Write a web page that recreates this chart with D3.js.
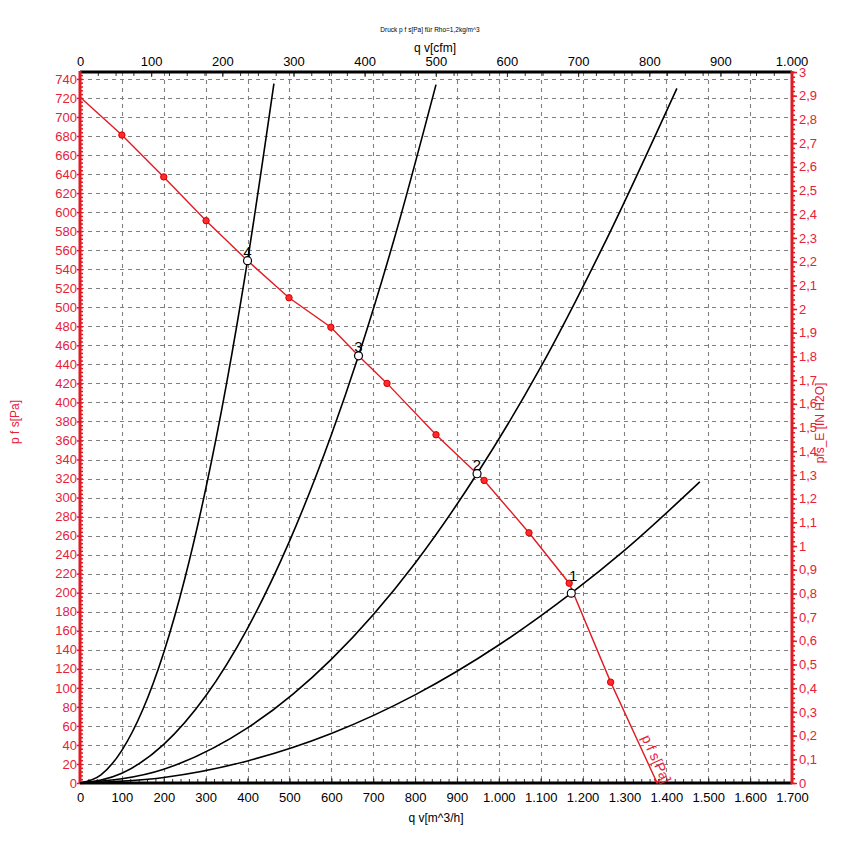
<!DOCTYPE html>
<html><head><meta charset="utf-8">
<script src="https://cdn.jsdelivr.net/npm/d3@7/dist/d3.min.js"></script>
<style>body{margin:0;background:#fff}svg{display:block;font-family:"Liberation Sans",Arial,sans-serif}</style>
</head><body><svg id="c" width="856" height="850"></svg>
<script>
// ---- data ----
const xTickValues = [0,100,200,300,400,500,600,700,800,900,1000,1100,1200,1300,1400,1500,1600,1700];
const cfmTickValues = [0,100,200,300,400,500,600,700,800,900,1000];
const paTickValues = [0,20,40,60,80,100,120,140,160,180,200,220,240,260,280,300,320,340,360,380,400,420,440,460,480,500,520,540,560,580,600,620,640,660,680,700,720,740];
const inTickValues = [0,0.1,0.2,0.3,0.4,0.5,0.6,0.7,0.8,0.9,1,1.1,1.2,1.3,1.4,1.5,1.6,1.7,1.8,1.9,2,2.1,2.2,2.3,2.4,2.5,2.6,2.7,2.8,2.9,3];

// fan curve p f s [Pa] over q v [m^3/h]
const fanQ = [0,100,200,301,400,499,599,665,733,850,948,965,1072,1168,1267,1378];
const fanP = [721,681,637,591,549,510,479,449,420,366,325,318,263,210,106,0];
const markerQ = [100,200,301,499,599,733,850,965,1072,1168,1267];
const markerP = [681,637,591,510,479,420,366,318,263,210,106];

// system curves
const sys1Q = [0,200,400,600,800,1000,1173,1300,1480];
const sys1P = [0,5.8,23.2,52,92.6,145,199.5,244.5,316.5];
const sys2Q = [0,200,400,600,800,948,1100,1250,1425];
const sys2P = [0,14.5,57.9,130,231,325,437,565,730];
const sys3Q = [0,100,200,300,400,500,600,665,750,850];
const sys3P = [0,10.2,40.6,91.4,162.6,254,365.8,449,571.5,734];
const sys4Q = [0,50,100,150,200,250,300,350,400,463];
const sys4P = [0,8.6,34.3,77.2,137.2,214.4,308.7,420,549,735];

// operating points
const opQ = [1173,948,665,400];
const opP = [199.5,325,449,549];
const opLabels = ["1","2","3","4"];

// ---- drawing ----
const RED = "#e01b24", RED_T = "#e8203a";
const svg = d3.select("#c");
const PA_PER_INH2O = 249.089;
const x = d3.scaleLinear().domain([0,1700]).range([80,792]);
const y = d3.scaleLinear().domain([0,3*PA_PER_INH2O]).range([783,72]);
const yIn = d3.scaleLinear().domain([0,3]).range([783,72]);
const xCfm = d3.scaleLinear().domain([0,1000]).range([80, x(1000*1.69901)]);
const de = d3.formatLocale({decimal:",",thousands:".",grouping:[3],currency:["","€"]});
const fmtThousands = de.format(",d");
const fmtDec = v => de.format(",.1~f")(v);

// grid
const grid = svg.append("g").attr("stroke","#808080").attr("stroke-width",1.1).attr("stroke-dasharray","4,4");
grid.selectAll("line.h").data(paTickValues.filter(v=>v>0)).join("line")
  .attr("x1",x(0)).attr("x2",x(1700)).attr("y1",d=>Math.round(y(d))+0.5).attr("y2",d=>Math.round(y(d))+0.5);
grid.selectAll("line.v").data(xTickValues.filter(v=>v>0&&v<1700)).join("line")
  .attr("y1",y.range()[1]).attr("y2",y(0)).attr("x1",d=>Math.round(x(d))+0.5).attr("x2",d=>Math.round(x(d))+0.5);

function styleAxis(g, color, textColor, width, domainD){
  g.selectAll("line").attr("stroke",color).attr("stroke-width",width);
  g.selectAll(".domain").remove();
  g.selectAll("text").attr("font-size",13).attr("fill",textColor).attr("font-family",null);
}

// bottom axis
const yb = y(0);
svg.append("g").attr("transform",`translate(0,${yb})`)
  .call(d3.axisBottom(x).tickValues(d3.range(0,1701,20)).tickSize(-4).tickFormat(""))
  .call(g=>styleAxis(g,"#333","#000",1));
svg.append("g").attr("transform",`translate(0,${yb})`)
  .call(d3.axisBottom(x).tickValues(xTickValues).tickSize(-5).tickPadding(10).tickFormat(fmtThousands))
  .call(g=>styleAxis(g,"#333","#000",1));
svg.append("line").attr("x1",x(0)).attr("x2",x(1700)).attr("y1",yb).attr("y2",yb).attr("stroke","#000").attr("stroke-width",3);

// top axis (cfm)
const yt = y.range()[1];
svg.append("g").attr("transform",`translate(0,${yt})`)
  .call(d3.axisTop(xCfm).tickValues(d3.range(0,1001,25)).tickSize(-4).tickFormat(""))
  .call(g=>styleAxis(g,"#333","#000",1));
svg.append("g").attr("transform",`translate(0,${yt})`)
  .call(d3.axisTop(xCfm).tickValues(cfmTickValues).tickSize(-5).tickPadding(6).tickFormat(fmtThousands))
  .call(g=>styleAxis(g,"#333","#000",1));
svg.append("line").attr("x1",x(0)).attr("x2",x(1700)).attr("y1",yt).attr("y2",yt).attr("stroke","#000").attr("stroke-width",3);

// left axis (Pa)
svg.append("g").attr("transform",`translate(${x(0)},0)`)
  .call(d3.axisRight(y).tickValues(d3.range(0,747,4)).tickSize(3).tickFormat(""))
  .call(g=>styleAxis(g,RED,RED_T,1.5));
svg.append("g").attr("transform",`translate(${x(0)},0)`)
  .call(d3.axisLeft(y).tickValues(paTickValues).tickSize(3).tickPadding(0).tickFormat(d3.format("d")))
  .call(g=>styleAxis(g,RED,RED_T,1.5));
svg.append("line").attr("x1",x(0)).attr("x2",x(0)).attr("y1",yb+1).attr("y2",yt-1).attr("stroke",RED).attr("stroke-width",3);

// right axis (in H2O)
svg.append("g").attr("transform",`translate(${x(1700)},0)`)
  .call(d3.axisRight(yIn).tickValues(d3.range(0,3.001,0.02)).tickSize(3).tickFormat(""))
  .call(g=>styleAxis(g,RED,RED_T,1.5));
svg.append("g").attr("transform",`translate(${x(1700)},0)`)
  .call(d3.axisRight(yIn).tickValues(inTickValues).tickSize(5).tickPadding(2).tickFormat(fmtDec))
  .call(g=>styleAxis(g,RED,RED_T,1.5));
svg.append("line").attr("x1",x(1700)).attr("x2",x(1700)).attr("y1",yb+1).attr("y2",yt-1).attr("stroke",RED).attr("stroke-width",3);

// titles
svg.append("text").attr("x",430).attr("y",32).attr("text-anchor","middle").attr("font-size",6.5).text("Druck p f s[Pa] für Rho=1,2kg/m^3");
svg.append("text").attr("x",435).attr("y",52).attr("text-anchor","middle").attr("font-size",12).text("q v[cfm]");
svg.append("text").attr("x",436).attr("y",822).attr("text-anchor","middle").attr("font-size",12).text("q v[m^3/h]");
svg.append("text").attr("transform","translate(19,422) rotate(-90)").attr("text-anchor","middle").attr("font-size",12).attr("fill",RED_T).text("p f s[Pa]");
svg.append("text").attr("transform","translate(824,423) rotate(-90)").attr("text-anchor","middle").attr("font-size",12).attr("fill",RED_T).text("pfs_E [IN H2O]");

// system curves
const line = d3.line().x(d=>x(d[0])).y(d=>y(d[1])).curve(d3.curveMonotoneX);
[[sys1Q,sys1P],[sys2Q,sys2P],[sys3Q,sys3P],[sys4Q,sys4P]].forEach(([q,p])=>{
  svg.append("path").datum(q.map((v,i)=>[v,p[i]])).attr("d",line)
    .attr("fill","none").attr("stroke","#000").attr("stroke-width",1.6);
});

// fan curve
const fanLine = d3.line().x(d=>x(d[0])).y(d=>y(d[1]));
svg.append("path").datum(fanQ.map((v,i)=>[v,fanP[i]])).attr("d",fanLine)
  .attr("fill","none").attr("stroke",RED).attr("stroke-width",1.4);
svg.selectAll("circle.m").data(markerQ.map((v,i)=>[v,markerP[i]])).join("circle")
  .attr("cx",d=>x(d[0])).attr("cy",d=>y(d[1])).attr("r",3.2)
  .attr("fill","#ff2a2a").attr("stroke","#d80000").attr("stroke-width",1);
// end marker
const endQ = fanQ[fanQ.length-1], endP = fanP[fanP.length-1];
const ex = x(endQ), ey = y(endP);
svg.append("path").attr("d",`M${ex-3},${ey-4}L${ex},${ey}L${ex+3},${ey-4}`)
  .attr("fill","none").attr("stroke",RED).attr("stroke-width",1.4);
// fan curve label along last segment
const q0 = fanQ[fanQ.length-2], p0 = fanP[fanP.length-2];
const sx = x(q0), sy = y(p0);
const angDeg = Math.atan2(ey - sy, ex - sx) * 180 / Math.PI;
const lx = ex + (sx - ex) * 0.45 + 5, ly = ey + (sy - ey) * 0.45;
svg.append("text").attr("x", lx).attr("y", ly)
  .attr("transform", "rotate(" + angDeg.toFixed(2) + "," + lx.toFixed(2) + "," + ly.toFixed(2) + ")")
  .attr("font-size",14).attr("fill",RED_T).text("p f s[Pa]");

// operating points
const ops = opQ.map((v,i)=>({q:v,p:opP[i],l:opLabels[i],i}));
svg.selectAll("circle.op").data(ops).join("circle")
  .attr("cx",d=>x(d.q)).attr("cy",d=>y(d.p)).attr("r",4)
  .attr("fill","#fff").attr("stroke","#000").attr("stroke-width",1.2);
svg.selectAll("text.op").data(ops).join("text")
  .attr("x",d=>x(d.q)+(d.i===0?2:0)).attr("y",d=>y(d.p)-(d.i===0?12:4))
  .attr("text-anchor","middle").attr("font-size",15).attr("fill","#000").text(d=>d.l);
</script></body></html>
